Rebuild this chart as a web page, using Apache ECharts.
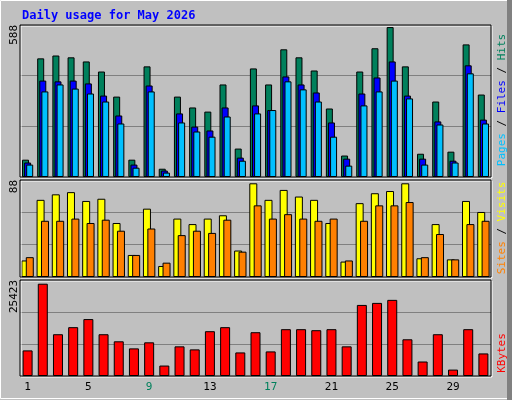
<!DOCTYPE html>
<html><head><meta charset="utf-8">
<script src="https://cdn.jsdelivr.net/npm/echarts@6/dist/echarts.min.js"></script>
<style>html,body{margin:0;padding:0;background:#C0C0C0}#c{width:512px;height:400px}</style>
</head><body><div id="c"></div>
<script>
const days = Array.from({length:31},(_,i)=>String(i+1));
const weekends = ['2','3','9','10','16','17','23','24','30','31'];
const hits  = [67,459,470,463,447,408,311,67,428,32,311,269,253,358,110,420,358,494,463,412,265,83,408,498,580,428,90,292,98,513,319];
const files = [56,373,370,373,362,315,238,48,354,25,246,195,180,269,75,277,259,389,358,327,211,71,323,385,447,315,71,215,63,432,222];
const pages = [48,331,358,342,323,292,207,36,331,17,211,176,156,234,63,246,259,370,339,292,156,44,277,331,373,304,48,203,56,401,207];
const visits= [15,70,75,77,69,71,49,20,62,10,53,48,53,56,24,85,70,79,73,70,49,14,67,76,78,85,17,48,16,69,59];
const sites = [18,51,51,53,49,52,42,20,44,13,38,42,40,52,23,65,53,57,53,51,53,15,51,65,65,68,18,39,16,48,51];
const kbytes= [6779,24441,11061,12934,15075,11061,9188,7314,8920,2765,7850,7047,11864,12934,6244,11596,6512,12399,12399,12131,12399,7850,18821,19357,20160,9723,3836,11061,1695,12399,5977];
const maxLabels = ['588','88','25423'];
const maxVals = [588,88,25423];

const mono = 'DejaVu Sans Mono';
const grids = [
  {left:20, right:21, top:25, height:152},
  {left:20, right:21, top:180, height:97},
  {left:20, right:21, top:280, height:96}
];
const xAxes = grids.map((g,i)=>({
  type:'category', data:days, gridIndex:i,
  axisLine:{show:false}, axisTick:{show:false},
  axisLabel: i===2 ? {show:true, margin:6, fontFamily:mono, fontSize:11,
     formatter:v=> weekends.includes(v)?'{w|'+v+'}':'{d|'+v+'}',
     rich:{w:{color:'#00805C',fontFamily:mono,fontSize:11},d:{color:'#000',fontFamily:mono,fontSize:11}}} : {show:false}
}));
const yAxes = grids.map((g,i)=>({
  type:'value', gridIndex:i, min:0, max:maxVals[i], interval:maxVals[i]/3,
  axisLabel:{show:false}, axisLine:{show:false}, axisTick:{show:false},
  splitLine:{show:true, lineStyle:{color:'#808080', width:1}}
}));
const bs = c=>({color:c, borderColor:'#000', borderWidth:1});
const series = [
  {type:'bar', data:hits, xAxisIndex:0, yAxisIndex:0, barWidth:7, barGap:'-70%', itemStyle:bs('#00805C'), animation:false},
  {type:'bar', data:files, xAxisIndex:0, yAxisIndex:0, barWidth:7, barGap:'-70%', itemStyle:bs('#0000FF'), animation:false},
  {type:'bar', data:pages, xAxisIndex:0, yAxisIndex:0, barWidth:7, barGap:'-70%', itemStyle:bs('#00C0FF'), animation:false},
  {type:'bar', data:visits, xAxisIndex:1, yAxisIndex:1, barWidth:8, barGap:'-45%', itemStyle:bs('#FFFF00'), animation:false},
  {type:'bar', data:sites, xAxisIndex:1, yAxisIndex:1, barWidth:8, barGap:'-45%', itemStyle:bs('#FF8000'), animation:false},
  {type:'bar', data:kbytes, xAxisIndex:2, yAxisIndex:2, barWidth:10, itemStyle:bs('#FF0000'), animation:false}
];
const frames = grids.map(g=>({type:'rect', shape:{x:g.left, y:g.top, width:512-g.left-g.right, height:g.height},
  style:{fill:'none', stroke:'#000', lineWidth:1}, z:100}));
const whites = grids.map(g=>({type:'rect', shape:{x:g.left+1, y:g.top+1, width:512-g.left-g.right, height:g.height},
  style:{fill:'none', stroke:'#fff', lineWidth:1}, z:99}));
const leftLabels = grids.map((g,i)=>({type:'text', x:9, y:g.top, rotation:Math.PI/2,
  style:{text:maxLabels[i], fill:'#000', font:'11px '+mono, align:'right', verticalAlign:'top'}}));
const rlab = (y, rich, text)=>({type:'text', x:497, y:y, rotation:Math.PI/2,
  style:{text:text, rich:rich, font:'11px '+mono, align:'center', verticalAlign:'top'}});
const chart = echarts.init(document.getElementById('c'), null, {renderer:'canvas'});
chart.setOption({
  backgroundColor:'#C0C0C0',
  title:{text:'Daily usage for May 2026', left:17, top:5, textStyle:{color:'#0000FF', fontFamily:mono, fontSize:12, fontWeight:'bold'}},
  grid:grids, xAxis:xAxes, yAxis:yAxes, series:series,
  graphic:[
    {type:'rect', shape:{x:0.5,y:0.5,width:510,height:398}, style:{fill:'none', stroke:'#fff', lineWidth:1}},
    {type:'rect', shape:{x:507,y:0,width:5,height:400}, style:{fill:'#808080'}},
    ...whites, ...frames, ...leftLabels,
    rlab(100, {p:{fill:'#00C0FF'},f:{fill:'#0000FF'},h:{fill:'#00805C'},s:{fill:'#000'}}, '{p|Pages}{s| / }{f|Files}{s| / }{h|Hits}'),
    rlab(228, {a:{fill:'#FF8000'},b:{fill:'#FFFF00'},s:{fill:'#000'}}, '{a|Sites}{s| / }{b|Visits}'),
    rlab(353, {k:{fill:'#FF0000'}}, '{k|KBytes}')
  ]
});
</script></body></html>
